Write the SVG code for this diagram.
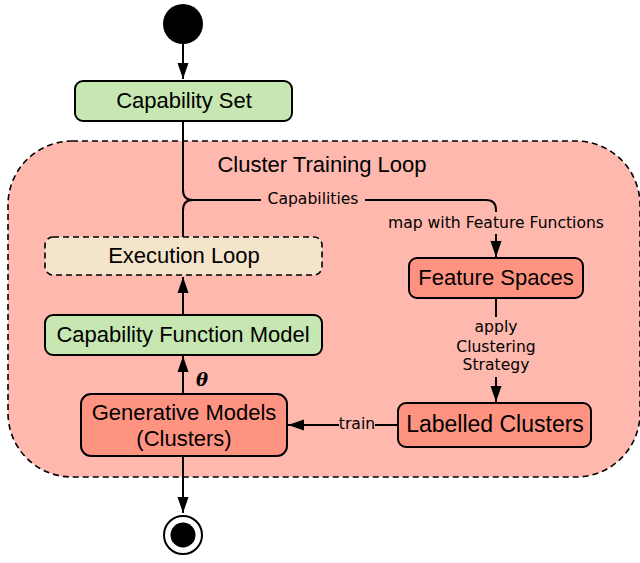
<svg xmlns="http://www.w3.org/2000/svg" width="640" height="563" viewBox="0 0 640 563">
<defs>
<marker id="ah" markerUnits="userSpaceOnUse" markerWidth="17" markerHeight="12" refX="16" refY="6" orient="auto">
<path d="M0,0.5 L16,6 L0,11.5 z" fill="#000"/>
</marker>
<style>
.t{fill:#000;text-anchor:middle}
.n{font-family:"Liberation Sans",Arial,sans-serif;font-size:22px}
.s{font-family:"DejaVu Sans",sans-serif;font-size:15.6px}
.box{stroke:#000;stroke-width:2}
.red{fill:#FF9382}
.grn{fill:#C6E7B1}
.ln{fill:none;stroke:#000;stroke-width:2}
.lb{fill:#FFB8AE}
</style>
</defs>
<rect width="640" height="563" fill="#fff"/>
<g id="cluster">
<rect x="8" y="141" width="632" height="336" rx="64" fill="#FFB8AE" stroke="#000" stroke-width="1.6" stroke-dasharray="6,4"/>
<text class="t n" x="322" y="172">Cluster Training Loop</text>
</g>
<g id="connectors">
<path class="ln" d="M183,44 V79" marker-end="url(#ah)"/>
<path class="ln" d="M183,121 V190 Q183,200 193,200 H486 Q496,200 496,210 V257" marker-end="url(#ah)"/>
<path class="ln" d="M183,237 V210 Q183,200 193,200"/>
<path class="ln" d="M183,315 V277" marker-end="url(#ah)"/>
<path class="ln" d="M183,394 V356" marker-end="url(#ah)"/>
<path class="ln" d="M496,298 V402" marker-end="url(#ah)"/>
<path class="ln" d="M398,425 H288" marker-end="url(#ah)"/>
<path class="ln" d="M183,456 V513" marker-end="url(#ah)"/>
<rect class="lb" x="261" y="189" width="104" height="20"/>
<text class="t s" x="313" y="204">Capabilities</text>
<rect class="lb" x="384" y="212" width="224" height="22"/>
<text class="t s" x="496" y="228">map with Feature Functions</text>
<rect class="lb" x="454" y="317" width="84" height="60"/>
<text class="t s" x="496" y="332">apply</text>
<text class="t s" x="496" y="352">Clustering</text>
<text class="t s" x="496" y="370">Strategy</text>
<rect class="lb" x="339" y="415" width="36" height="20"/>
<text class="t s" x="357" y="429">train</text>
<text x="202" y="386" font-family="'DejaVu Serif',serif" font-style="italic" font-weight="bold" font-size="18" text-anchor="middle">θ</text>
</g>
<g id="start"><circle cx="183" cy="24" r="20" fill="#000"/></g>
<g id="capability-set">
<rect class="box grn" x="75" y="81" width="217" height="40" rx="8"/>
<text class="t n" x="184" y="108">Capability Set</text>
</g>
<g id="execution-loop">
<rect x="45" y="237" width="277" height="38" rx="8" fill="#F3E4CA" stroke="#000" stroke-width="1.6" stroke-dasharray="6,4"/>
<text class="t n" x="184" y="263">Execution Loop</text>
</g>
<g id="capability-function-model">
<rect class="box grn" x="45" y="315" width="277" height="40" rx="8"/>
<text class="t n" x="183" y="342">Capability Function Model</text>
</g>
<g id="generative-models">
<rect class="box red" x="81" y="394" width="206" height="62" rx="10"/>
<text class="t n" x="184" y="420">Generative Models</text>
<text class="t n" x="184" y="446">(Clusters)</text>
</g>
<g id="feature-spaces">
<rect class="box red" x="409" y="258" width="174" height="40" rx="8"/>
<text class="t n" x="496" y="285">Feature Spaces</text>
</g>
<g id="labelled-clusters">
<rect class="box red" x="398" y="403" width="193" height="44" rx="8"/>
<text class="t n" x="495" y="432" style="font-size:23px">Labelled Clusters</text>
</g>
<g id="end">
<circle cx="183" cy="535" r="19" fill="#fff" stroke="#000" stroke-width="2"/>
<circle cx="183" cy="535" r="12.5" fill="#000"/>
</g>
</svg>
